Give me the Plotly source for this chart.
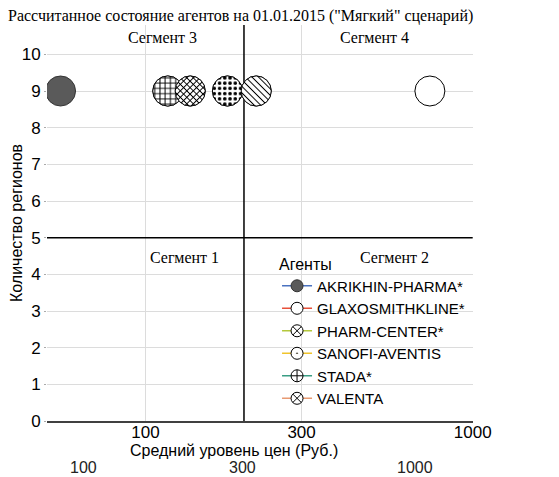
import base64
import numpy as np
import plotly.graph_objects as go

# Data -
agents = ["AKRIKHIN-PHARMA*", "GLAXOSMITHKLINE*", "PHARM-CENTER*", "SANOFI-AVENTIS", "STADA*", "VALENTA"]
price = [55, 740, 218, 178, 117, 137]
regions = [9, 9, 9, 9, 9, 9]
line_colors = ["#4a72c0", "#e8503a", "#b4c83c", "#f0c42c", "#3a9e84", "#e89a72"]
fill_colors = ["#5a5a5a", "white", "white", "white", "white", "white"]
legend_symbols = ["circle", "circle", "circle-x", "circle-dot", "circle-cross", "circle-x"]
patterns = [None, None, "diag", "dots", "grid", "cross"]

price_split = 200
region_split = 5

segments = ["Сегмент 1", "Сегмент 2", "Сегмент 3", "Сегмент 4"]
segment_x = [132, 578, 113, 502]
segment_y = [4.47, 4.45, 10.47, 10.47]

x_ticks = [100, 300, 1000]
x_ticks2 = ["100", "300", "1000"]
x_ticks2_pos = [0.085, 0.46, 0.864]

title = 'Рассчитанное состояние агентов на 01.01.2015 ("Мягкий" сценарий)'
sans = "Liberation Sans, Arial, sans-serif"
serif = "Liberation Serif, Times New Roman, serif"


def circle_svg(kind):
    # patterned circle, drawn as a picture on top of the marker
    if kind == "grid":
        pat = ("<pattern id='p' width='16' height='16' patternUnits='userSpaceOnUse' x='2' y='2'>"
               "<path d='M0 8H16M8 0V16' stroke='black' stroke-width='3'/></pattern>")
    elif kind == "cross":
        pat = ("<pattern id='p' width='14' height='14' patternUnits='userSpaceOnUse' patternTransform='rotate(45)'>"
               "<path d='M0 7H14M7 0V14' stroke='black' stroke-width='3'/></pattern>")
    elif kind == "diag":
        pat = ("<pattern id='p' width='14' height='14' patternUnits='userSpaceOnUse' patternTransform='rotate(-45)'>"
               "<path d='M7 0V14' stroke='black' stroke-width='3'/></pattern>")
    else:
        pat = ("<pattern id='p' width='16' height='16' patternUnits='userSpaceOnUse' x='2' y='2'>"
               "<circle cx='8' cy='8' r='5.5' fill='black'/></pattern>")
    svg = ("<svg xmlns='http://www.w3.org/2000/svg' width='100' height='100' viewBox='0 0 100 100'>"
           "<defs>" + pat + "</defs>"
           "<circle cx='50' cy='50' r='46' fill='white'/>"
           "<circle cx='50' cy='50' r='46' fill='url(#p)'/>"
           "<circle cx='50' cy='50' r='46' fill='none' stroke='black' stroke-width='3'/></svg>")
    return "data:image/svg+xml;base64," + base64.b64encode(svg.encode()).decode()


fig = go.Figure()

# dividers between segments
fig.add_trace(go.Scatter(x=[price_split, price_split], y=[0, 10.8], mode="lines",
                         line=dict(color="black", width=1.5), showlegend=False, hoverinfo="skip"))
fig.add_trace(go.Scatter(x=[50, 1000], y=[region_split, region_split], mode="lines",
                         line=dict(color="black", width=1.5), showlegend=False, hoverinfo="skip"))

for i in range(len(agents)):
    mline = dict(color="#333333" if i == 0 else "black", width=1)
    # point on the chart
    fig.add_trace(go.Scatter(
        x=[price[i]], y=[regions[i]], mode="markers", name=agents[i], showlegend=False,
        marker=dict(size=30, color=fill_colors[i], line=mline),
    ))
    # legend entry
    fig.add_trace(go.Scatter(
        x=[None], y=[None], mode="lines+markers", name=agents[i],
        line=dict(color=line_colors[i], width=1.5),
        marker=dict(size=12, color=fill_colors[i], symbol=legend_symbols[i], line=mline),
    ))

order = [4, 5, 3, 2]
for i in order:
    fig.add_layout_image(
        source=circle_svg(patterns[i]), xref="x", yref="y",
        x=np.log10(price[i]), y=regions[i], sizex=0.1, sizey=1,
        xanchor="center", yanchor="middle", sizing="contain", layer="above",
    )

for s, sx, sy in zip(segments, segment_x, segment_y):
    fig.add_annotation(text=s, x=np.log10(sx), y=sy, xref="x", yref="y", showarrow=False,
                       xanchor="center", font=dict(family=serif, size=16, color="black"))

fig.add_annotation(text="Средний уровень цен (Руб.)", x=0.439, y=-0.074, xref="paper", yref="paper",
                   showarrow=False, xanchor="center", yanchor="middle",
                   font=dict(family=sans, size=16, color="black"))
for t, px_ in zip(x_ticks2, x_ticks2_pos):
    fig.add_annotation(text=t, x=px_, y=-0.117, xref="paper", yref="paper",
                       showarrow=False, xanchor="center", yanchor="middle",
                       font=dict(family=sans, size=16, color="#222222"))

fig.update_layout(
    width=551, height=469,
    margin=dict(l=39, r=86, t=17, b=56),
    paper_bgcolor="white", plot_bgcolor="white",
    title=dict(text=title, x=0.0, xref="container", xanchor="left",
               y=0.997, yref="container", yanchor="top",
               font=dict(family=serif, size=16, color="black")),
    xaxis=dict(type="log", range=[np.log10(50), 3.001], tickvals=x_ticks,
               ticktext=[str(t) for t in x_ticks], gridcolor="#dcdcdc",
               showline=True, linecolor="#404040", linewidth=1.5, automargin=False,
               ticklabelstandoff=-5,
               tickfont=dict(family=sans, size=17, color="black")),
    yaxis=dict(range=[0, 10.8], dtick=1, gridcolor="#dcdcdc", zeroline=False,
               ticks="outside", ticklen=2, tickcolor="#aaaaaa", automargin=False,
               tickfont=dict(family=sans, size=17, color="black"),
               title=dict(text="Количество регионов", standoff=1,
                          font=dict(family=sans, size=16, color="black"))),
    legend=dict(x=0.54, y=0.435, xanchor="left", yanchor="top", bgcolor="rgba(0,0,0,0)",
                title=dict(text="Агенты", font=dict(family=sans, size=16, color="black")),
                font=dict(family=sans, size=15, color="black"), itemsizing="trace",
                tracegroupgap=0),
    showlegend=True,
)

fig.write_html("out.html")
